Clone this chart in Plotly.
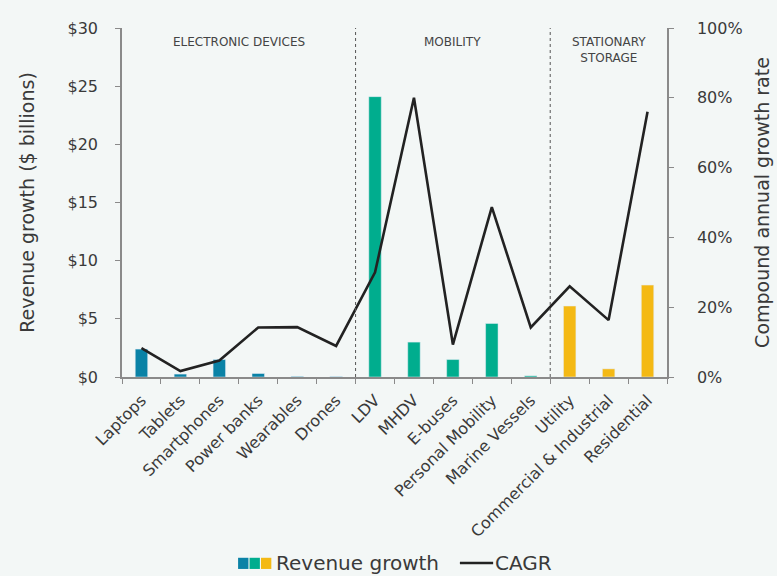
import plotly.graph_objects as go

# Battery market segments
categories = [
    "Laptops", "Tablets", "Smartphones", "Power banks", "Wearables", "Drones",
    "LDV", "MHDV", "E-buses", "Personal Mobility", "Marine Vessels",
    "Utility", "Commercial & Industrial", "Residential",
]
segments = ["ELECTRONIC DEVICES"] * 6 + ["MOBILITY"] * 5 + ["STATIONARY<br>STORAGE"] * 3

# Revenue growth ($ billions) and compound annual growth rate (%)
revenue_growth = [2.4, 0.25, 1.5, 0.3, 0.05, 0.03, 24.1, 3.0, 1.5, 4.6, 0.1, 6.1, 0.7, 7.9]
cagr = [8.3, 1.7, 4.7, 14.2, 14.3, 8.9, 30.0, 80.0, 9.3, 48.7, 14.2, 26.0, 16.3, 76.0]

left_ticks = [0, 5, 10, 15, 20, 25, 30]
left_labels = ["$%d" % v for v in left_ticks]
right_ticks = [0, 20, 40, 60, 80, 100]
right_labels = ["%d%%" % v for v in right_ticks]

segment_colors = {
    "ELECTRONIC DEVICES": "#0a82a6",
    "MOBILITY": "#00ad8e",
    "STATIONARY<br>STORAGE": "#f4b914",
}
bar_colors = [segment_colors[s] for s in segments]

FONT = "DejaVu Sans"
TEXT = "#3a3a3a"
AXIS = "#8a8a8a"
BG = "#f3f7f6"

fig = go.Figure()
fig.add_trace(go.Bar(
    x=categories, y=revenue_growth, marker_color=bar_colors,
    width=0.32, name="Revenue growth", showlegend=False,
))
fig.add_trace(go.Scatter(
    x=categories, y=cagr, yaxis="y2", mode="lines",
    line=dict(color="#222222", width=2.6), name="CAGR", showlegend=False,
))

# Segment dividers and headings
seg_names = list(dict.fromkeys(segments))
shapes = []
annotations = []
start = 0
for i, name in enumerate(seg_names):
    n = segments.count(name)
    end = start + n
    annotations.append(dict(
        x=(start + end - 1) / 2, y=0.985,
        xref="x", yref="paper", text=name, showarrow=False, yanchor="top",
        font=dict(family=FONT, size=12, color="#444444"),
    ))
    if i < len(seg_names) - 1:
        shapes.append(dict(
            type="line", xref="x", yref="paper", x0=end - 0.5, x1=end - 0.5,
            y0=0, y1=1, line=dict(color="#555555", width=1, dash="dot"),
        ))
    start = end

# Legend drawn as shapes + text (three-colour swatch for the bar series)
leg_y = -0.533
for j, c in enumerate(segment_colors.values()):
    shapes.append(dict(
        type="rect", xref="paper", yref="paper",
        x0=0.213 + j * 0.021, x1=0.213 + (j + 1) * 0.021 - 0.002,
        y0=leg_y - 0.017, y1=leg_y + 0.015, line=dict(width=0), fillcolor=c,
    ))
annotations.append(dict(
    x=0.278, y=leg_y, xref="paper", yref="paper", text="Revenue growth",
    showarrow=False, xanchor="left", yanchor="middle",
    font=dict(family=FONT, size=20, color=TEXT),
))
shapes.append(dict(
    type="line", xref="paper", yref="paper", x0=0.62, x1=0.681,
    y0=leg_y, y1=leg_y, line=dict(color="#222222", width=2.6),
))
annotations.append(dict(
    x=0.68, y=leg_y, xref="paper", yref="paper", text="CAGR",
    showarrow=False, xanchor="left", yanchor="middle",
    font=dict(family=FONT, size=20, color=TEXT),
))

fig.update_layout(
    width=777, height=576,
    margin=dict(l=122, r=110, t=28, b=199),
    paper_bgcolor=BG, plot_bgcolor=BG,
    font=dict(family=FONT, color=TEXT),
    xaxis=dict(
        type="category", tickangle=-45, tickson="boundaries", automargin=False,
        ticks="outside", ticklen=5, tickcolor=AXIS, ticklabelstandoff=6,
        showline=True, linecolor=AXIS, linewidth=1.5,
        showgrid=False, tickfont=dict(family=FONT, size=16, color=TEXT),
    ),
    yaxis=dict(
        range=[0, 30], tickvals=left_ticks, ticktext=left_labels, automargin=False,
        ticks="outside", ticklen=5, tickcolor=AXIS, ticklabelstandoff=14,
        showline=True, linecolor=AXIS, linewidth=1.5, showgrid=False,
        zeroline=False, tickfont=dict(family=FONT, size=16, color=TEXT),
        title=dict(text="Revenue growth ($ billions)", standoff=28,
                   font=dict(family=FONT, size=19, color=TEXT)),
    ),
    yaxis2=dict(
        range=[0, 100], overlaying="y", side="right", automargin=False,
        tickvals=right_ticks, ticktext=right_labels,
        ticks="outside", ticklen=5, tickcolor=AXIS, ticklabelstandoff=20,
        showline=True, linecolor=AXIS, linewidth=1.5, showgrid=False,
        zeroline=False, tickfont=dict(family=FONT, size=16, color=TEXT),
        title=dict(text="Compound annual growth rate", standoff=14,
                   font=dict(family=FONT, size=19, color=TEXT)),
    ),
    shapes=shapes,
    annotations=annotations,
)

fig.write_html("out.html")
